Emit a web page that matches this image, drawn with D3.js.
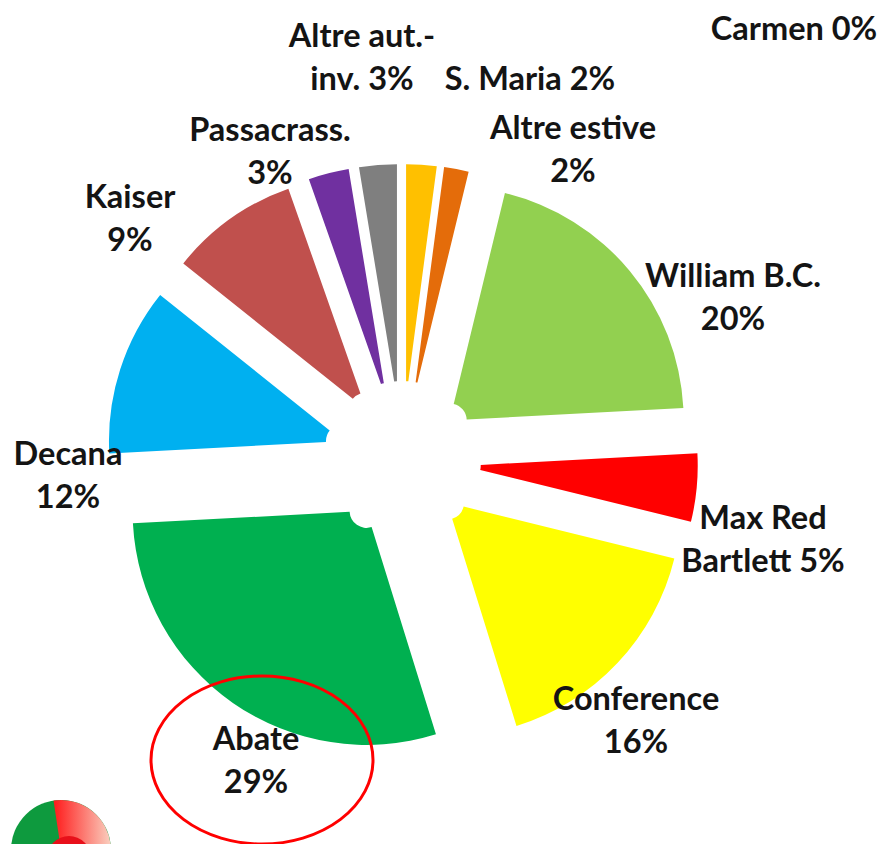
<!DOCTYPE html>
<html>
<head>
<meta charset="utf-8">
<script src="https://cdn.jsdelivr.net/npm/d3@7"></script>
<style>
  html, body { margin: 0; padding: 0; background: #fff; }
  svg { display: block; }
  .lbl { font-family: Lato, "Open Sans", sans-serif; font-weight: 700; fill: #141414; }
</style>
</head>
<body>
<script>
// ---- data ----
const categories = ["S. Maria", "Altre estive", "Carmen", "William B.C.", "Max Red Bartlett",
                    "Conference", "Abate", "Decana", "Kaiser", "Passacrass.", "Altre aut.-inv."];
const shares = [2.1, 1.7, 0, 20.4, 4.7, 16.4, 29.0, 11.6, 8.9, 2.8, 2.6];
const colors = ["#FFC000", "#E46C0A", "#4F81BD", "#92D050", "#FF0000",
                "#FFFF00", "#00B050", "#00B0F0", "#C0504D", "#7030A0", "#7F7F7F"];
// label lines; {p} is replaced by the percent
const labelLines = [
  ["S. Maria {p}"], ["Altre estive", "{p}"], ["Carmen {p}"], ["William B.C.", "{p}"],
  ["Max Red", "Bartlett {p}"], ["Conference", "{p}"], ["Abate", "{p}"], ["Decana", "{p}"],
  ["Kaiser", "{p}"], ["Passacrass.", "{p}"], ["Altre aut.-", "inv. {p}"]
];

// ---- layout (positions of the manually placed labels: centre x, first baseline) ----
const W = 881, H = 844;
const cx = 402, cy = 460;
const outerR = 234, innerR = 17, explode = 62;
const labelAnchor = [
  [530, 90], [573, 139], [794, 40], [733, 287], [763, 529],
  [636, 710], [256, 750], [68, 465], [130, 208], [270, 141], [362, 47]
];
const lineGap = 43;

const svg = d3.select("body").append("svg").attr("width", W).attr("height", H);

const total = d3.sum(shares);
const pie = d3.pie().sort(null).value(d => d).startAngle(0).endAngle(2 * Math.PI);
const arcs = pie(shares);
const arc = d3.arc().innerRadius(innerR).outerRadius(outerR);

const g = svg.append("g").attr("transform", `translate(${cx},${cy})`);
g.selectAll("path.slice")
  .data(arcs.filter(d => d.value > 0))
  .join("path")
  .attr("class", "slice")
  .attr("fill", d => colors[d.index])
  .attr("d", arc)
  .attr("transform", d => {
    const a = (d.startAngle + d.endAngle) / 2;
    return `translate(${explode * Math.sin(a)},${-explode * Math.cos(a)})`;
  });

// ---- labels ----
const fmt = v => Math.round(v / total * 100) + "%";
const lg = svg.append("g");
arcs.forEach((d, i) => {
  const t = lg.append("text").attr("class", "lbl").attr("text-anchor", "middle")
    .attr("font-size", 32.5);
  labelLines[i].forEach((ln, k) => {
    t.append("tspan")
      .attr("x", labelAnchor[i][0])
      .attr("y", labelAnchor[i][1] + k * lineGap)
      .text(ln.replace("{p}", fmt(shares[i])));
  });
});

// ---- highlight ellipse around Abate label ----
svg.append("ellipse")
  .attr("cx", 262).attr("cy", 760).attr("rx", 111).attr("ry", 84)
  .attr("fill", "none").attr("stroke", "#FF0000").attr("stroke-width", 3);

// ---- logo (partial, bottom-left) ----
const defs = svg.append("defs");
const grad = defs.append("linearGradient").attr("id", "lg1")
  .attr("x1", "0%").attr("x2", "100%").attr("y1", "0%").attr("y2", "0%");
grad.append("stop").attr("offset", "0%").attr("stop-color", "#FF1A1A");
grad.append("stop").attr("offset", "100%").attr("stop-color", "#FAD0C0");
const logo = svg.append("g").attr("transform", "translate(61,850)");
logo.append("circle").attr("r", 50).attr("fill", "#0E9A3E");
logo.append("path")
  .attr("d", d3.arc().innerRadius(0).outerRadius(50).startAngle(-0.15).endAngle(Math.PI)())
  .attr("fill", "url(#lg1)");
logo.append("circle").attr("cx", 8).attr("cy", 8).attr("r", 22).attr("fill", "#E8101A");
</script>
</body>
</html>
